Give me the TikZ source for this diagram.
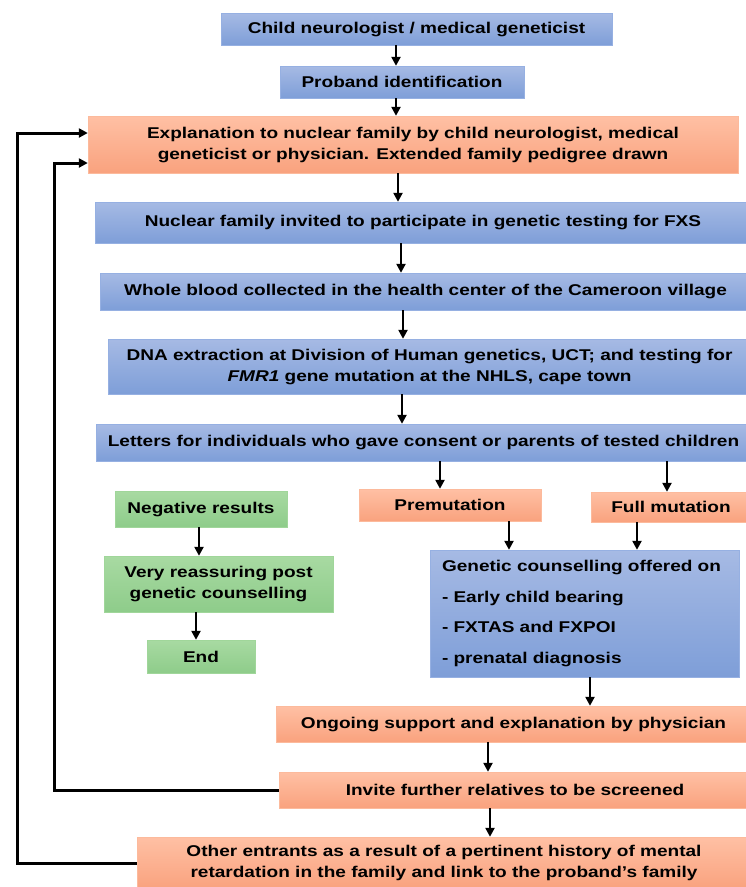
\documentclass[tikz,border=0pt]{standalone}
\usepackage{fontspec}
\setmainfont{Liberation Sans}[FakeStretch=1.22]
\usetikzlibrary{arrows.meta}

\definecolor{bluetop}{RGB}{166,186,228}
\definecolor{bluebot}{RGB}{126,158,216}
\definecolor{blueline}{RGB}{150,176,226}
\definecolor{orangetop}{RGB}{255,192,164}
\definecolor{orangebot}{RGB}{249,162,126}
\definecolor{orangeline}{RGB}{252,186,156}
\definecolor{greentop}{RGB}{168,218,162}
\definecolor{greenbot}{RGB}{142,204,138}
\definecolor{greenline}{RGB}{160,214,154}

\begin{document}
\begin{tikzpicture}[x=1pt,y=-1pt,
    box/.style={inner sep=0pt, align=center,
      font=\bfseries\fontsize{15.6}{21}\selectfont},
    bluebox/.style={box, draw=blueline, top color=bluetop, bottom color=bluebot},
    orangebox/.style={box, draw=orangeline, top color=orangetop, bottom color=orangebot},
    greenbox/.style={box, draw=greenline, top color=greentop, bottom color=greenbot},
    arr/.style={-{Triangle[length=9pt,width=9pt]}, line width=2.6pt},
    fb/.style={arr, line width=3pt}]
  \useasboundingbox (0,0) rectangle (745,887);

  % main column
  \node[bluebox, minimum width=391pt, minimum height=32pt] (neuro) at (416.5,29) {Child neurologist / medical geneticist};
  \node[bluebox, minimum width=244pt, minimum height=32pt] (proband) at (402,82) {Proband identification};
  \node[orangebox, minimum width=650pt, minimum height=57pt] (explain) at (413,144.5)
    {Explanation to nuclear family by child neurologist, medical\\geneticist or physician. Extended family pedigree drawn};
  \node[bluebox, minimum width=656pt, minimum height=41pt] (invited) at (423,222.5)
    {Nuclear family invited to participate in genetic testing for FXS};
  \node[bluebox, minimum width=651pt, minimum height=37pt] (blood) at (425.5,291.5)
    {Whole blood collected in the health center of the Cameroon village};
  \node[bluebox, minimum width=643pt, minimum height=55pt] (dna) at (429.5,366.5)
    {DNA extraction at Division of Human genetics, UCT; and testing for\\\textit{FMR1} gene mutation at the NHLS, cape town};
  \node[bluebox, minimum width=655pt, minimum height=37pt] (letters) at (423.5,442.5)
    {Letters for individuals who gave consent or parents of tested children};

  % results
  \node[greenbox, minimum width=172pt, minimum height=36pt] (negative) at (201,509) {Negative results};
  \node[orangebox, minimum width=182pt, minimum height=32pt] (premut) at (450,505) {Premutation};
  \node[orangebox, minimum width=160pt, minimum height=30pt] (fullmut) at (671,507) {Full mutation};
  \node[greenbox, minimum width=229pt, minimum height=56pt] (reassure) at (218.5,584)
    {Very reassuring post\\genetic counselling};
  \node[greenbox, minimum width=108pt, minimum height=33pt] (endbox) at (201,656.5) {End};
  \node[bluebox, minimum width=309pt, minimum height=127pt, text width=285pt, inner xsep=12pt, align=left] (counsel) at (584.5,613.5)
    {Genetic counselling offered on\\[9.5pt]- Early child bearing\\[9.5pt]- FXTAS and FXPOI\\[9.5pt]- prenatal diagnosis};

  % follow up
  \node[orangebox, minimum width=475pt, minimum height=36pt] (ongoing) at (513.5,724)
    {Ongoing support and explanation by physician};
  \node[orangebox, minimum width=472pt, minimum height=36pt] (invite) at (515,790)
    {Invite further relatives to be screened};
  \node[orangebox, minimum width=614pt, minimum height=52pt] (other) at (444,863)
    {Other entrants as a result of a pertinent history of mental\\retardation in the family and link to the proband’s family};

  \draw[arr] (396,0 |- neuro.south) -- (396,0 |- proband.north);
  \draw[arr] (396,0 |- proband.south) -- (396,0 |- explain.north);
  \draw[arr] (398,0 |- explain.south) -- (398,0 |- invited.north);
  \draw[arr] (401,0 |- invited.south) -- (401,0 |- blood.north);
  \draw[arr] (403,0 |- blood.south) -- (403,0 |- dna.north);
  \draw[arr] (402,0 |- dna.south) -- (402,0 |- letters.north);
  \draw[arr] (440,0 |- letters.south) -- (440,0 |- premut.north);
  \draw[arr] (667,0 |- letters.south) -- (667,0 |- fullmut.north);
  \draw[arr] (199,0 |- negative.south) -- (199,0 |- reassure.north);
  \draw[arr] (196,0 |- reassure.south) -- (196,0 |- endbox.north);
  \draw[arr] (509,0 |- premut.south) -- (509,0 |- counsel.north);
  \draw[arr] (637,0 |- fullmut.south) -- (637,0 |- counsel.north);
  \draw[arr] (590,0 |- counsel.south) -- (590,0 |- ongoing.north);
  \draw[arr] (488,0 |- ongoing.south) -- (488,0 |- invite.north);
  \draw[arr] (490,0 |- invite.south) -- (490,0 |- other.north);

  % back to the family
  \draw[fb] (other.west) -- (17,0 |- other.west) -- (17,133) -- (explain.west |- 0,133);
  \draw[fb] (invite.west) -- (54,0 |- invite.west) -- (54,163) -- (explain.west |- 0,163);
\end{tikzpicture}
\end{document}
